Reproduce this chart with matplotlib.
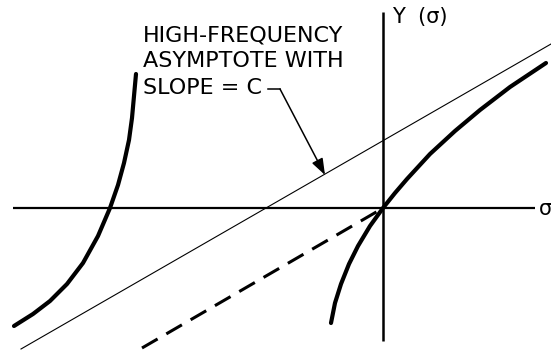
import matplotlib.pyplot as plt

# Y(sigma) sketch: two branches, high-frequency asymptote and the
# parallel line through the origin (sigma in arbitrary units)
left_sigma = [-3.69, -3.50, -3.33, -3.16, -3.00, -2.85, -2.73, -2.65, -2.59, -2.54, -2.51, -2.49, -2.47]
left_y = [-1.18, -1.06, -0.93, -0.76, -0.55, -0.28, 0.00, 0.23, 0.45, 0.68, 0.90, 1.12, 1.34]

right_sigma = [-0.52, -0.48, -0.42, -0.34, -0.25, -0.13, 0.00, 0.12, 0.24, 0.47, 0.72, 0.97, 1.27, 1.63]
right_y = [-1.15, -0.95, -0.76, -0.56, -0.38, -0.18, 0.00, 0.15, 0.29, 0.54, 0.77, 0.98, 1.21, 1.45]

asym_sigma = [-3.62, 1.68]
asym_y = [-1.41, 1.64]

origin_sigma = [-2.41, -0.05]
origin_y = [-1.40, -0.03]

label_lines = ["HIGH-FREQUENCY", "ASYMPTOTE WITH", "SLOPE = C"]

fig = plt.figure(figsize=(5.51, 3.52), dpi=100)
ax = fig.add_axes([0, 0, 1, 1])
ax.set_xlim(-3.83, 1.68)
ax.set_ylim(-1.44, 2.08)
ax.axis("off")

# axes of the sketch
ax.plot([-3.70, 1.52], [0, 0], color="black", lw=1.6, solid_capstyle="butt")
ax.plot([0, 0], [-1.33, 1.96], color="black", lw=1.8, solid_capstyle="butt")

ax.plot(asym_sigma, asym_y, color="black", lw=0.8)
ax.plot(origin_sigma, origin_y, color="black", lw=2.2, dashes=(5.9, 3.3))
ax.plot(left_sigma, left_y, color="black", lw=3.0, solid_capstyle="round")
ax.plot(right_sigma, right_y, color="black", lw=3.0, solid_capstyle="round")

ax.text(0.09, 1.91, "Y  (σ)", fontsize=15, ha="left", va="center")
ax.text(1.56, -0.01, "σ", fontsize=15, ha="left", va="center")

ax.text(-2.40, 1.83, "\n".join(label_lines), fontsize=16, ha="left", va="top",
        linespacing=1.4)

# pointer from the label to the asymptote
ax.plot([-1.15, -1.03], [1.19, 1.19], color="black", lw=1.1)
ax.annotate("", xy=(-0.58, 0.33), xytext=(-1.03, 1.19),
            arrowprops=dict(arrowstyle="-|>,head_length=0.55,head_width=0.2",
                            color="black", lw=1.1, mutation_scale=18,
                            shrinkA=0, shrinkB=0))

fig.savefig("out.png", dpi=100)
